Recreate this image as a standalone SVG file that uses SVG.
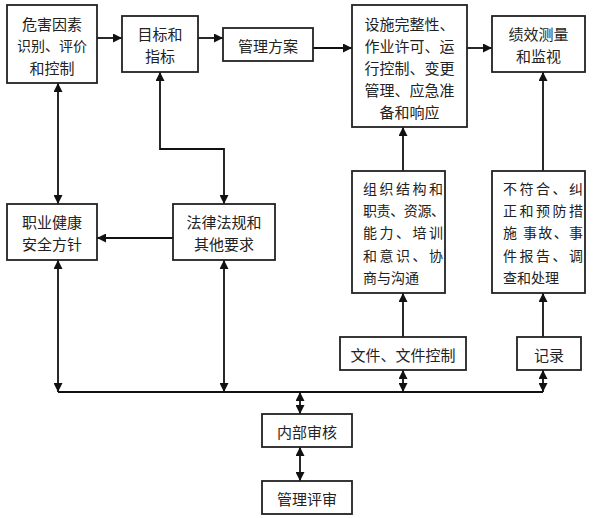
<svg xmlns="http://www.w3.org/2000/svg" width="600" height="518" viewBox="0 0 600 518">
<style>
.box{fill:#fff;stroke:#222;stroke-width:1.8}
.t{font-family:"Noto Sans CJK SC","Noto Sans CJK JP",sans-serif;font-size:15px;fill:#222;dominant-baseline:central}
.c{text-anchor:middle}
.s{font-size:14px}
.ln{fill:none;stroke:#111;stroke-width:1.8}
.a{marker-end:url(#ah)}
.d{marker-start:url(#ah);marker-end:url(#ah)}
</style>
<defs>
<marker id="ah" viewBox="0 0 10 10" refX="10" refY="5" markerWidth="10" markerHeight="9" markerUnits="userSpaceOnUse" orient="auto-start-reverse">
<path d="M0,0 L10,5 L0,10 z" fill="#111"/>
</marker>
</defs>
<rect width="600" height="518" fill="#fff"/>
<g id="connectors">
<line class="ln a" x1="97" y1="38" x2="122" y2="38"/>
<line class="ln a" x1="198" y1="38" x2="223" y2="38"/>
<line class="ln a" x1="313" y1="48" x2="352" y2="48"/>
<line class="ln a" x1="467" y1="48" x2="492" y2="48"/>
<line class="ln d" x1="58" y1="83" x2="58" y2="204"/>
<polyline class="ln d" points="160,72 160,149 224,149 224,204"/>
<line class="ln a" x1="173" y1="238" x2="97" y2="238"/>
<line class="ln d" x1="58" y1="260" x2="58" y2="392"/>
<line class="ln d" x1="224" y1="260" x2="224" y2="392"/>
<line class="ln a" x1="403" y1="171" x2="403" y2="127"/>
<line class="ln a" x1="543" y1="171" x2="543" y2="72"/>
<line class="ln a" x1="403" y1="337" x2="403" y2="293"/>
<line class="ln a" x1="543" y1="337" x2="543" y2="293"/>
<line class="ln d" x1="403" y1="370" x2="403" y2="392"/>
<line class="ln d" x1="543" y1="370" x2="543" y2="392"/>
<line class="ln" x1="58" y1="392" x2="543" y2="392"/>
<line class="ln d" x1="300" y1="392" x2="300" y2="414"/>
<line class="ln d" x1="300" y1="447" x2="300" y2="481"/>
</g>
<g id="n-hazard">
<rect class="box" x="7" y="5" width="90" height="78"/>
<text class="t c" x="52" y="23">危害因素</text>
<text class="t c s" x="52" y="45">识别、评价</text>
<text class="t c" x="52" y="67">和控制</text>
</g>
<g id="n-objectives">
<rect class="box" x="122" y="16" width="76" height="56"/>
<text class="t c" x="160" y="33">目标和</text>
<text class="t c" x="160" y="55">指标</text>
</g>
<g id="n-programme">
<rect class="box" x="223" y="28" width="90" height="33"/>
<text class="t c" x="268" y="45">管理方案</text>
</g>
<g id="n-operation">
<rect class="box" x="352" y="5" width="115" height="122"/>
<text class="t c" x="409.5" y="23">设施完整性、</text>
<text class="t c" x="409.5" y="45">作业许可、运</text>
<text class="t c" x="409.5" y="67">行控制、变更</text>
<text class="t c" x="409.5" y="89">管理、应急准</text>
<text class="t c" x="409.5" y="111">备和响应</text>
</g>
<g id="n-measure">
<rect class="box" x="492" y="16" width="93" height="56"/>
<text class="t c" x="538.5" y="33">绩效测量</text>
<text class="t c" x="538.5" y="55">和监视</text>
</g>
<g id="n-policy">
<rect class="box" x="7" y="204" width="90" height="56"/>
<text class="t c" x="52" y="221">职业健康</text>
<text class="t c" x="52" y="243">安全方针</text>
</g>
<g id="n-legal">
<rect class="box" x="173" y="204" width="102" height="56"/>
<text class="t c" x="224" y="221">法律法规和</text>
<text class="t c" x="224" y="243">其他要求</text>
</g>
<g id="n-structure">
<rect class="box" x="352" y="171" width="93" height="122"/>
<text class="t s" x="363" y="188" textLength="80" lengthAdjust="spacing">组织结构和</text>
<text class="t s" x="363" y="210" textLength="82" lengthAdjust="spacing">职责、资源、</text>
<text class="t s" x="363" y="232" textLength="80" lengthAdjust="spacing">能力、培训</text>
<text class="t s" x="363" y="255" textLength="80" lengthAdjust="spacing">和意识、协</text>
<text class="t s" x="363" y="277">商与沟通</text>
</g>
<g id="n-nonconformity">
<rect class="box" x="492" y="171" width="93" height="122"/>
<text class="t s" x="503" y="188" textLength="80" lengthAdjust="spacing">不符合、纠</text>
<text class="t s" x="503" y="210" textLength="80" lengthAdjust="spacing">正和预防措</text>
<text class="t s" x="503" y="232" textLength="80" lengthAdjust="spacing">施 事故、事</text>
<text class="t s" x="503" y="255" textLength="80" lengthAdjust="spacing">件报告、调</text>
<text class="t s" x="503" y="277">查和处理</text>
</g>
<g id="n-documents">
<rect class="box" x="340" y="337" width="126" height="33"/>
<text class="t c" x="403" y="354">文件、文件控制</text>
</g>
<g id="n-records">
<rect class="box" x="517" y="337" width="64" height="33"/>
<text class="t c" x="549" y="354">记录</text>
</g>
<g id="n-audit">
<rect class="box" x="262" y="414" width="90" height="33"/>
<text class="t c" x="307" y="431">内部审核</text>
</g>
<g id="n-review">
<rect class="box" x="262" y="481" width="90" height="33"/>
<text class="t c" x="307" y="498">管理评审</text>
</g>
</svg>
